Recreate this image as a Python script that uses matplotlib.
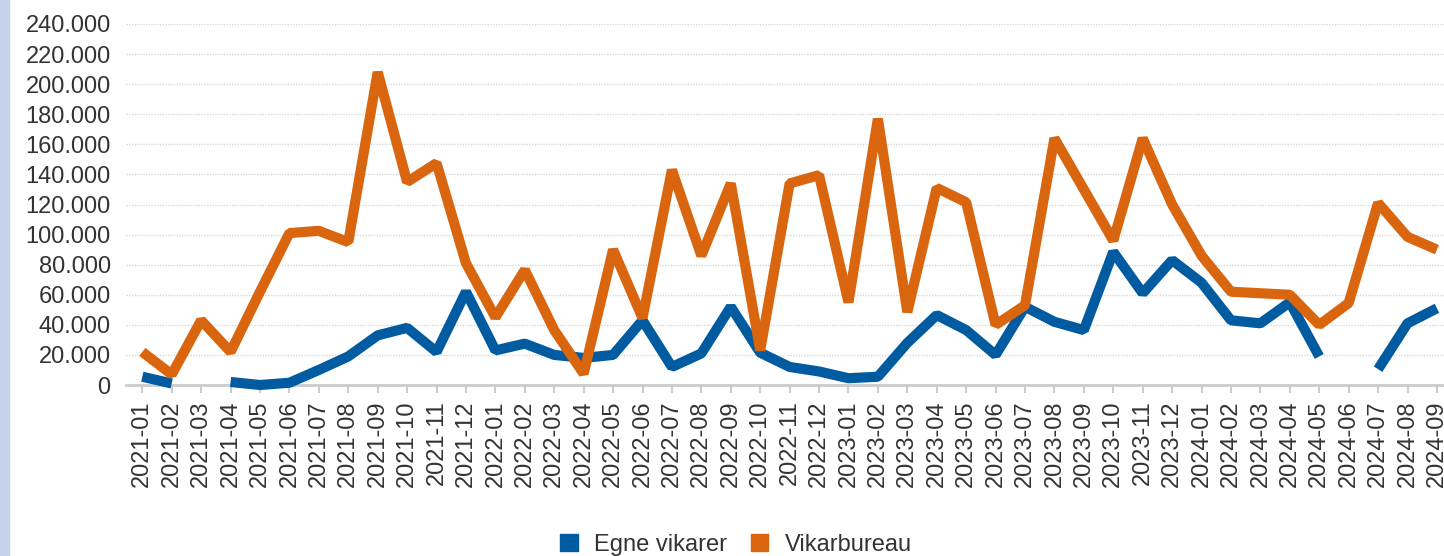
import matplotlib
matplotlib.use("Agg")
import matplotlib.pyplot as plt
from matplotlib.patches import Patch, Rectangle
from matplotlib.ticker import FuncFormatter
import numpy as np

plt.rcParams['font.family'] = ['Liberation Sans', 'DejaVu Sans']

# Monthly periods 2021-01 .. 2024-09
months = [f"{y}-{m:02d}" for y in range(2021, 2025) for m in range(1, 13)][:45]

# Egne vikarer (NaN = missing month)
egne = [5500, 1000, np.nan, 2000, 0, 1500, 10000, 19000, 33000, 38000, 22000, 62000,
        23000, 27500, 20000, 18000, 20000, 43000, 12000, 21000, 52000, 21500, 12000, 9000,
        4500, 5500, 28000, 46500, 36500, 20000, 52000, 42000, 36500, 88500, 61000, 83000,
        68000, 43000, 41000, 55000, 19000, np.nan, 10500, 41000, 51000]

# Vikarbureau
vikar = [22000, 7000, 43000, 22000, 62000, 101000, 102500, 95000, 208000, 135000, 147500, 81000,
         45000, 76500, 36500, 7500, 90000, 44500, 143000, 86000, 134000, 23000, 134000, 139500,
         55000, 177000, 48500, 131000, 121500, 40000, 53000, 164000, 130000, 96000, 164000, 120000,
         86000, 62000, 61000, 60000, 40000, 54500, 121000, 98500, 90000]

labels = ["Egne vikarer", "Vikarbureau"]
colors = ["#005ba1", "#da650f"]

fig = plt.figure(figsize=(14.44, 5.56), dpi=100)
fig.patches.append(Rectangle((0, 0), 8.5 / 1444, 1, transform=fig.transFigure,
                             color="#c6d2ea", zorder=0))

ax = fig.add_axes([126 / 1444, 1 - 385 / 556, 1 - 126 / 1444, (385 - 24) / 556])
x = np.arange(len(months))
for vals, c in zip([egne, vikar], colors):
    ax.plot(x, vals, color=c, lw=7.3, solid_capstyle='butt', solid_joinstyle='bevel',
            clip_on=False, zorder=3)

ax.set_ylim(0, 240000)
ax.set_xlim(-0.554, 44.24)
ax.set_yticks(np.arange(0, 240001, 20000))
ax.yaxis.set_major_formatter(FuncFormatter(lambda v, p: f"{int(v):,}".replace(",", ".")))
ax.set_xticks(x)
ax.set_xticklabels(months, rotation=90)

ax.grid(axis='y', color='#d9d9d9', linestyle=(0, (1, 1)), lw=1)
ax.set_axisbelow(True)
for s in ['left', 'right', 'top']:
    ax.spines[s].set_visible(False)
ax.spines['bottom'].set_color('#cccccc')
ax.spines['bottom'].set_linewidth(2)
ax.tick_params(axis='y', length=0, pad=11, labelsize=17, labelcolor='#333333')
ax.tick_params(axis='x', length=6, width=1.5, color='#cccccc', pad=5,
               labelsize=17, labelcolor='#333333')

handles = [Patch(color=c) for c in colors]
fig.legend(handles, labels, loc='center', bbox_to_anchor=(736 / 1444, 1 - 545 / 556),
           ncol=2, frameon=False, fontsize=17, handlelength=0.75, handleheight=0.75,
           handletextpad=0.7, columnspacing=1.0, labelcolor='#333333')

fig.savefig("out.png", dpi=100)
